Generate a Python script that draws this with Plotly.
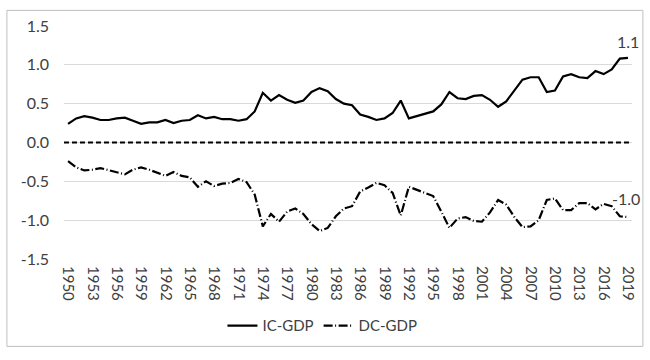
import plotly.graph_objects as go

years = list(range(1950, 2020))

ic_gdp = [0.24, 0.31, 0.34, 0.32, 0.29, 0.29, 0.31, 0.32, 0.28, 0.24,
          0.26, 0.26, 0.29, 0.25, 0.28, 0.29, 0.35, 0.31, 0.33, 0.30,
          0.30, 0.28, 0.30, 0.40, 0.64, 0.54, 0.61, 0.55, 0.51, 0.54,
          0.65, 0.70, 0.66, 0.56, 0.50, 0.48, 0.36, 0.33, 0.29, 0.31,
          0.38, 0.54, 0.31, 0.34, 0.37, 0.40, 0.49, 0.65, 0.57, 0.56,
          0.60, 0.61, 0.55, 0.46, 0.53, 0.67, 0.81, 0.84, 0.84, 0.65,
          0.67, 0.85, 0.88, 0.84, 0.83, 0.92, 0.88, 0.94, 1.08, 1.09]

dc_gdp = [-0.24, -0.32, -0.36, -0.35, -0.33, -0.36, -0.39, -0.41, -0.35, -0.32,
          -0.35, -0.39, -0.43, -0.38, -0.43, -0.45, -0.57, -0.50, -0.56, -0.53,
          -0.52, -0.47, -0.51, -0.67, -1.08, -0.92, -1.02, -0.89, -0.85, -0.92,
          -1.05, -1.14, -1.10, -0.95, -0.85, -0.82, -0.63, -0.58, -0.52, -0.55,
          -0.65, -0.94, -0.57, -0.61, -0.65, -0.69, -0.89, -1.10, -0.98, -0.96,
          -1.01, -1.02, -0.90, -0.74, -0.80, -0.96, -1.09, -1.08, -1.00, -0.74,
          -0.72, -0.87, -0.87, -0.78, -0.78, -0.86, -0.79, -0.82, -0.95, -0.96]

tick_years = list(range(1950, 2020, 3))
y_ticks = [-1.5, -1.0, -0.5, 0.0, 0.5, 1.0, 1.5]
y_tick_labels = ["-1.5", "-1.0", "-0.5", "0.0", "0.5", "1.0", "1.5"]

FONT = "Lato, 'Liberation Sans', sans-serif"
TXT = "#404040"

fig = go.Figure()
fig.add_trace(go.Scatter(x=years, y=ic_gdp, name="IC-GDP", mode="lines",
                         line=dict(color="black", width=2.2)))
fig.add_trace(go.Scatter(x=years, y=dc_gdp, name="DC-GDP", mode="lines",
                         line=dict(color="black", width=2.2, dash="9px,2.5px,1px,2.5px")))

# zero reference line (dashed)
fig.add_shape(type="line", xref="paper", yref="y", x0=0, x1=1, y0=0, y1=0,
              line=dict(color="black", width=2, dash="5px,3px"), layer="above")

# outer chart-area frame
for (ax0, ay0, ax1, ay1) in [(-0.1005, 1.067, 1.0192, 1.067),
                             (-0.1005, -0.375, 1.0192, -0.375),
                             (-0.1005, -0.375, -0.1005, 1.067),
                             (1.0192, -0.375, 1.0192, 1.067)]:
    fig.add_shape(type="line", xref="paper", yref="paper", x0=ax0, y0=ay0, x1=ax1, y1=ay1,
                  line=dict(color="#bfbfbf", width=1))

# end labels
fig.add_annotation(x=years[-1], y=ic_gdp[-1], text=f"{ic_gdp[-1]:.1f}", showarrow=False,
                   yanchor="bottom", yshift=5, font=dict(size=16, color=TXT, family=FONT))
fig.add_annotation(x=years[-1], y=dc_gdp[-1], text=f"{dc_gdp[-1]:.1f}", showarrow=False,
                   yanchor="bottom", yshift=7, xshift=-2, font=dict(size=16, color=TXT, family=FONT))

fig.update_layout(
    width=650, height=360,
    margin=dict(l=64, r=18, t=26, b=101),
    paper_bgcolor="white", plot_bgcolor="white",
    font=dict(family=FONT, size=15, color=TXT),
    showlegend=True,
    legend=dict(orientation="h", x=0.455, xanchor="center", y=-0.287, yanchor="middle",
                font=dict(size=15, color=TXT, family=FONT), itemwidth=30,
                traceorder="normal"),
    xaxis=dict(range=[1949.5, 2019.5], tickmode="array", tickvals=tick_years,
               ticktext=[str(y) for y in tick_years], tickangle=90,
               showgrid=False, zeroline=False, showline=False, ticks="",
               ticklabelstandoff=6, tickfont=dict(size=15, color=TXT, family=FONT)),
    yaxis=dict(range=[-1.5, 1.5], tickmode="array", tickvals=y_ticks, ticktext=y_tick_labels,
               showgrid=True, gridcolor="#d9d9d9", gridwidth=1, zeroline=False,
               showline=False, ticks="", ticklabelstandoff=14,
               tickfont=dict(size=16, color=TXT, family=FONT)),
)

post = (
    "document.body.style.margin='0px';"
    "document.body.style.overflow='hidden';"
)
fig.write_html("out.html", config={"displayModeBar": False}, post_script=post)
